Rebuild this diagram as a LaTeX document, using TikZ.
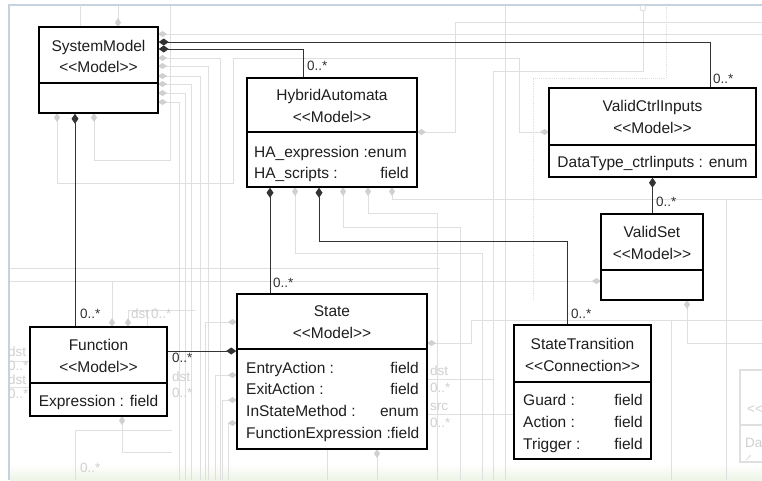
\documentclass[tikz,border=0pt]{standalone}
\usepackage{fontspec}
\setmainfont{Liberation Sans}
\usetikzlibrary{arrows.meta,calc}
\definecolor{gline}{HTML}{DFDFDF}
\definecolor{gdia}{HTML}{D0D0D0}
\definecolor{framec}{HTML}{C5D3E0}
\definecolor{conn}{HTML}{333333}
\definecolor{txt}{HTML}{1E1E1E}
\definecolor{glabel}{HTML}{D0D0D0}
\definecolor{bgreen}{HTML}{EEF4E6}
\newcommand\stereo[1]{<\kern0pt<#1>\kern0pt>}
\tikzset{
  box/.style={draw=black, line width=1.5pt, fill=white, inner sep=0pt},
  tx/.style={inner sep=0pt, text=txt, anchor=base},
  txl/.style={tx, anchor=base west},
  txr/.style={tx, anchor=base east},
  conline/.style={draw=conn, line width=1pt},
  comp/.style={conline, {Diamond[length=10pt,width=7pt]}-},
  gl/.style={draw=gline, line width=0.9pt},
  gcomp/.style={gl, {Diamond[length=9pt,width=6pt,color=gdia,fill=gdia]}-},
  gboth/.style={gl, {Diamond[length=9pt,width=6pt,color=gdia,fill=gdia]}-{Diamond[length=9pt,width=6pt,color=gdia,fill=gdia]}},
  lbl/.style={inner sep=0pt, anchor=base west, text=conn, font=\fontsize{13.5}{16}\selectfont},
  glbl/.style={lbl, text=glabel},
}
\begin{document}
\begin{tikzpicture}[x=1pt,y=-1pt,font=\fontsize{15.5}{18}\selectfont]
\useasboundingbox (0,0) rectangle (762,480);
\fill[white] (0,0) rectangle (762,480);
\shade[top color=white, bottom color=bgreen] (10,464) rectangle (762,480);
\draw[framec, line width=1.5pt] (9,480) -- (9,5) -- (762,5);

% ---------- grey background connectors ----------
\draw[gl] (80,5) -- (80,27);
\draw[gcomp] (118,27) -- (118,6);
\draw[gcomp] (94,113) -- (94,160) -- (170,160) -- (170,6);
\draw[gboth] (57,113) -- (57,183) -- (233,183) -- (233,58) -- (519,58) -- (519,132) -- (549,132);
\draw[gcomp] (158,34) -- (762,34);
\draw[gcomp] (158,58) -- (220,58) -- (220,480);
\draw[gcomp] (158,66) -- (208,66) -- (208,480);
\draw[gcomp] (158,76) -- (200,76) -- (200,480);
\draw[gcomp] (158,84) -- (191,84) -- (191,480);
\draw[gcomp] (158,93) -- (185,93) -- (185,480);
\draw[gcomp] (158,102) -- (179,102) -- (179,480);
\draw[gcomp] (417,132) -- (455,132) -- (455,22) -- (762,22);
\draw[gl] (505,6) -- (505,480);
\draw[gl] (493,480) -- (493,71) -- (643,71) -- (643,11);
\draw[gl] (643,8) circle (3);
\draw[gl, densely dotted] (533,300) -- (533,78) -- (666,78) -- (666,6);
\draw[gcomp] (295,187) -- (295,253) -- (482,253) -- (482,480);
\draw[gcomp] (343,187) -- (343,227) -- (460,227) -- (460,480);
\draw[gcomp] (368,187) -- (368,213) -- (437,213) -- (437,480);
\draw[gcomp] (392,187) -- (392,199) -- (762,199);
\draw[gl] (726,199) -- (726,480);
\draw[gl] (10,268) -- (440,268);
\draw[gcomp] (601,281) -- (10,281);
\draw[gcomp] (687,300) -- (687,343) -- (762,343);
\draw[gcomp] (427,343) -- (471,343) -- (471,320) -- (762,320);
\draw[gl] (671,320) -- (671,480);
\draw[gl] (427,379) -- (493,379);
\draw[gl] (427,414) -- (514,414);
\draw[gcomp] (237,322) -- (205,322) -- (205,480);
\draw[gcomp] (237,375) -- (215,375) -- (215,480);
\draw[gcomp] (237,400) -- (222,400) -- (222,480);
\draw[gcomp] (237,423) -- (228,423) -- (228,480);
\draw[gcomp] (377,449) -- (377,480);
\draw[gl] (327,449) -- (327,480);
\draw[gcomp] (112,327) -- (112,281);
\draw[gcomp] (128,327) -- (128,310) -- (195,310);
\draw[gl] (147,310) -- (147,327);
\draw[gcomp] (122,416) -- (122,452) -- (172,452);
\draw[gl] (75,480) -- (75,430) -- (172,430);
\draw[gl] (10,361) -- (30,361);
\draw[gl] (10,387) -- (30,387);
% faint box bottom right
\draw[gl, line width=1.2pt, fill=white] (740,370) rectangle (775,462);
\draw[gl, line width=1.2pt] (740,425) -- (762,425);
\node[glbl] (fb1) at (747,413) {<\kern0pt<};
\node[glbl] (fb2) at (745,447) {Da};
\draw[gl, -{Stealth[length=3pt]}] (746,460) -- (751,455);

% grey labels
\node[glbl] (gl1) at (8,356) {dst};
\node[glbl] (gl2) at (8,370) {0..*};
\node[glbl] (gl3) at (8,384) {dst};
\node[glbl] (gl4) at (8,398) {0..*};
\node[glbl] (gl5) at (131,318) {dst};
\node[glbl] (gl6) at (151,318) {0..*};
\node[glbl] (gl7) at (172,381) {dst};
\node[glbl] (gl8) at (172,397) {0..*};
\node[glbl] (gl9) at (430,375) {dst};
\node[glbl] (gl10) at (430,392) {0..*};
\node[glbl] (gl11) at (430,410) {src};
\node[glbl] (gl12) at (430,427) {0..*};
\node[glbl] (gl13) at (80,472) {0..*};

% ---------- boxes ----------
\node[box, minimum width=119pt, minimum height=86pt] (sm) at (98.5,70) {};
\draw[line width=1.5pt] (sm.west |- 0,83) -- (sm.east |- 0,83);
\node[box, minimum width=170pt, minimum height=109pt] (ha) at (332,132.5) {};
\draw[line width=1.5pt] (ha.west |- 0,132) -- (ha.east |- 0,132);
\node[box, minimum width=207pt, minimum height=89pt] (vci) at (652.5,132.5) {};
\draw[line width=1.5pt] (vci.west |- 0,145) -- (vci.east |- 0,145);
\node[box, minimum width=102pt, minimum height=86pt] (vs) at (652,257) {};
\draw[line width=1.5pt] (vs.west |- 0,270) -- (vs.east |- 0,270);
\node[box, minimum width=137pt, minimum height=134pt] (trans) at (582.5,392) {};
\draw[line width=1.5pt] (trans.west |- 0,382) -- (trans.east |- 0,382);
\node[box, minimum width=137pt, minimum height=89pt] (fn) at (98.5,371.5) {};
\draw[line width=1.5pt] (fn.west |- 0,383) -- (fn.east |- 0,383);
\node[box, minimum width=190pt, minimum height=155pt] (state) at (332,371.5) {};
\draw[line width=1.5pt] (state.west |- 0,349) -- (state.east |- 0,349);

% ---------- texts ----------
\node[tx] (smt) at (98.5,51.5) {SystemModel};
\node[tx] (sms) at (98.5,72.5) {\stereo{Model}};
\node[tx] (hat) at (332,100) {HybridAutomata};
\node[tx] (has) at (332,122) {\stereo{Model}};
\node[txl] (haf1) at (254,157) {HA\_expression :enum};
\node[txl] (haf2) at (254,178) {HA\_scripts :};
\node[txr] (haf2r) at (409,178) {field};
\node[tx] (vcit) at (652.5,111.5) {ValidCtrlInputs};
\node[tx] (vcis) at (652.5,133.5) {\stereo{Model}};
\node[tx] (vcif) at (652.5,167) {DataType\_ctrlinputs : enum};
\node[tx] (vst) at (652,237.5) {ValidSet};
\node[tx] (vss) at (652,259.5) {\stereo{Model}};
\node[tx] (trt) at (582.5,349.5) {StateTransition};
\node[tx] (trs) at (582.5,371) {\stereo{Connection}};
\node[txl] (trf1) at (523,405) {Guard :};
\node[txr] (trf1r) at (643,405) {field};
\node[txl] (trf2) at (523,427) {Action :};
\node[txr] (trf2r) at (643,427) {field};
\node[txl] (trf3) at (523,449) {Trigger :};
\node[txr] (trf3r) at (643,449) {field};
\node[tx] (fnt) at (98.5,350.5) {Function};
\node[tx] (fns) at (98.5,372) {\stereo{Model}};
\node[tx] (fnf) at (98.5,406) {Expression : field};
\node[tx] (stt) at (332,316.5) {State};
\node[tx] (sts) at (332,338.5) {\stereo{Model}};
\node[txl] (stf1) at (246,373) {EntryAction :};
\node[txr] (stf1r) at (419,373) {field};
\node[txl] (stf2) at (246,394.5) {ExitAction :};
\node[txr] (stf2r) at (419,394.5) {field};
\node[txl] (stf3) at (246,416.5) {InStateMethod :};
\node[txr] (stf3r) at (419,416.5) {enum};
\node[txl] (stf4) at (246,438) {FunctionExpression :field};

% ---------- black connectors ----------
\draw[comp] ([yshift=28pt]sm.east) -| ([xshift=57.5pt]vci.north);
\draw[comp] ([yshift=21pt]sm.east) -| ([xshift=-29pt]ha.north);
\draw[comp] ([xshift=-23.5pt]sm.south) -- ([xshift=-23.5pt]fn.north);
\draw[comp] ([xshift=-62pt]ha.south) -- ([xshift=-62pt]state.north);
\draw[comp] ([xshift=-13pt]ha.south) -- ++(0,54) -| ([xshift=-15.5pt]trans.north);
\draw[comp] (vci.south) -- (vci.south |- vs.north);
\coordinate (fs) at ([yshift=20.5pt]state.west);
\draw[comp] (fs) -- (fs -| fn.east);

% ---------- multiplicities ----------
\node[lbl] (m1) at (713,83) {0..*};
\node[lbl] (m2) at (307,70) {0..*};
\node[lbl] (m3) at (656,206) {0..*};
\node[lbl] (m4) at (571,318) {0..*};
\node[lbl] (m5) at (273,287) {0..*};
\node[lbl] (m6) at (80,318) {0..*};
\node[lbl] (m7) at (172,362) {0..*};
\end{tikzpicture}
\end{document}
